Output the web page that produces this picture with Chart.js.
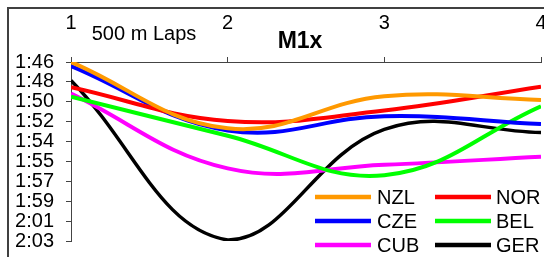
<!DOCTYPE html>
<html>
<head>
<meta charset="utf-8">
<script src="https://cdn.jsdelivr.net/npm/chart.js@4.4.0/dist/chart.umd.min.js"></script>
<style>
  html, body { margin: 0; padding: 0; background: #fff; }
  #wrap { width: 544px; height: 257px; }
</style>
</head>
<body>
<div id="wrap"><canvas id="myChart" width="544" height="257"></canvas></div>
<script>
// lap numbers (500 m laps)
let laps = [1, 2, 3, 4];
let xTickLabels = ['1', '2', '3', '4'];

// lap times in seconds
let nzl = [106.0, 112.3, 109.25, 109.6];
let nor = [108.4, 111.6, 110.6, 108.35];
let cze = [106.4, 112.5, 111.15, 111.9];
let bel = [109.3, 113.0, 116.75, 110.2];
let cub = [109.0, 116.1, 115.75, 115.0];
let ger = [107.75, 122.9, 112.4, 112.7];

let yTickLabels = ['1:46', '1:48', '1:50', '1:52', '1:54', '1:55', '1:57', '1:59', '2:01', '2:03'];
let yMin = 106;
let yMax = 123;

const font = 'Liberation Sans, Arial, sans-serif';

function pts(values) {
    return values.map((v, i) => ({ x: laps[i], y: v }));
}

function ds(label, values, color, width) {
    return {
        label: label,
        data: pts(values),
        borderColor: color,
        backgroundColor: color,
        borderWidth: width,
        pointRadius: 0,
        tension: 0.4,
        fill: false
    };
}

// frame, titles and legend drawn on top of the chart
const extras = {
    id: 'extras',
    afterDraw(chart) {
        const c = chart.ctx;
        c.save();
        c.strokeStyle = '#404040';
        c.lineWidth = 2;
        c.strokeRect(8, 8, 700, 400);

        c.fillStyle = '#000';
        c.textBaseline = 'alphabetic';
        c.textAlign = 'center';
        c.font = '20px ' + font;
        c.fillText('500 m Laps', 144, 40);
        c.font = 'bold 23px ' + font;
        c.fillText('M1x', 300, 48);

        // legend, two columns
        const cols = [[315, 371, 377], [435, 491, 496]];
        const rows = [197, 221, 245];
        c.textAlign = 'left';
        c.textBaseline = 'middle';
        c.font = '20px ' + font;
        chart.data.datasets.forEach((d, i) => {
            const col = cols[i % 2];
            const y = rows[Math.floor(i / 2)];
            c.strokeStyle = d.borderColor;
            c.lineWidth = 4.5;
            c.beginPath();
            c.moveTo(col[0], y);
            c.lineTo(col[1], y);
            c.stroke();
            c.fillStyle = '#000';
            c.fillText(d.label, col[2], y + 1);
        });
        c.restore();
    }
};

let ctx = document.getElementById('myChart');
if (ctx !== null) {
    new Chart(ctx, {
        type: 'line',
        data: {
            datasets: [
                ds('NZL', nzl, '#FF9900', 4),
                ds('NOR', nor, '#FF0000', 4),
                ds('CZE', cze, '#0000FF', 4),
                ds('BEL', bel, '#00FF00', 4),
                ds('CUB', cub, '#FF00FF', 4),
                ds('GER', ger, '#000000', 3.5)
            ]
        },
        options: {
            responsive: false,
            animation: false,
            layout: { padding: { left: 0, right: 3, top: 0, bottom: 16 } },
            plugins: {
                legend: { display: false },
                tooltip: { enabled: false }
            },
            scales: {
                x: {
                    type: 'linear',
                    position: 'top',
                    min: 1,
                    max: 4,
                    afterBuildTicks: (scale) => {
                        scale.ticks = laps.map(v => ({ value: v }));
                    },
                    afterFit: (scale) => {
                        scale.height = 62;
                        scale.paddingLeft = 0;
                        scale.paddingRight = 0;
                    },
                    ticks: {
                        autoSkip: false,
                        maxRotation: 0,
                        padding: 22,
                        color: '#000',
                        font: { family: font, size: 20 },
                        callback: (v, i) => xTickLabels[i]
                    },
                    grid: { drawOnChartArea: false, tickLength: 5, color: '#444' },
                    border: { color: '#444', width: 1 }
                },
                y: {
                    reverse: true,
                    min: yMin,
                    max: yMax,
                    afterBuildTicks: (scale) => {
                        const n = yTickLabels.length;
                        scale.ticks = yTickLabels.map((l, i) => ({ value: yMin + i * (yMax - yMin) / (n - 1) }));
                    },
                    afterFit: (scale) => {
                        scale.width = 71;
                        scale.paddingTop = 0;
                        scale.paddingBottom = 0;
                    },
                    ticks: {
                        autoSkip: false,
                        padding: 12,
                        color: '#000',
                        font: { family: font, size: 20 },
                        callback: (v, i) => yTickLabels[i]
                    },
                    grid: { drawOnChartArea: false, tickLength: 5, color: '#444' },
                    border: { color: '#444', width: 1 }
                }
            }
        },
        plugins: [extras]
    });
}
</script>
</body>
</html>
